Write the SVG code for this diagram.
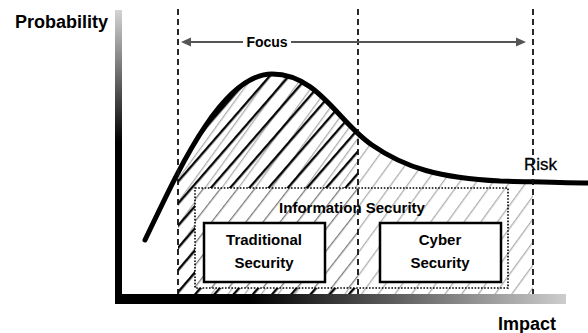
<svg xmlns="http://www.w3.org/2000/svg" width="588" height="333" viewBox="0 0 588 333">
<style>
.lbl{font-family:"Liberation Sans",Arial,sans-serif;font-weight:bold;fill:#000}
.reg{font-family:"Liberation Sans",Arial,sans-serif;font-weight:normal;fill:#000}
.dash{stroke:#111;stroke-width:1.8;stroke-dasharray:6 4;fill:none}
.box{fill:#fff;stroke:#000;stroke-width:2.5}
</style>
<defs>
<pattern id="hDark" patternUnits="userSpaceOnUse" width="14.5" height="14.5" patternTransform="rotate(41)">
<line x1="7" y1="0" x2="7" y2="14.5" stroke="#000" stroke-width="2.3"/>
</pattern>
<pattern id="hMid" patternUnits="userSpaceOnUse" width="13.5" height="13.5" patternTransform="rotate(38)">
<line x1="6.5" y1="0" x2="6.5" y2="13.5" stroke="#555" stroke-width="1"/>
</pattern>
<pattern id="hLight" patternUnits="userSpaceOnUse" width="13.5" height="13.5" patternTransform="rotate(36)">
<line x1="6.5" y1="0" x2="6.5" y2="13.5" stroke="#999" stroke-width="1"/>
</pattern>
<clipPath id="under">
<path d="M145,240 C175,178 220,74 272,74 C318,74 338,122 372,145 C405,168 440,178 500,181 C540,182 570,183 588,183 L588,294 L145,294 Z"/>
</clipPath>
<clipPath id="darkZone">
<path clip-rule="evenodd" d="M178,0 H358 V294 H178 Z M195,188 H358 V288 H195 Z"/>
</clipPath>
<linearGradient id="gV" x1="0" y1="10" x2="0" y2="304" gradientUnits="userSpaceOnUse">
<stop offset="0" stop-color="#d4d4d4"/>
<stop offset="0.45" stop-color="#000"/>
<stop offset="1" stop-color="#000"/>
</linearGradient>
<linearGradient id="gH" x1="115" y1="0" x2="566" y2="0" gradientUnits="userSpaceOnUse">
<stop offset="0" stop-color="#000"/>
<stop offset="0.3" stop-color="#000"/>
<stop offset="1" stop-color="#cdcdcd"/>
</linearGradient>
</defs>

<g id="hatching">
<g clip-path="url(#under)">
<rect x="178" y="60" width="355" height="234" fill="url(#hLight)"/>
<rect x="195" y="188" width="163" height="100" fill="#fff"/>
<rect x="195" y="188" width="163" height="100" fill="url(#hMid)"/>
<g clip-path="url(#darkZone)">
<rect x="178" y="60" width="180" height="234" fill="url(#hDark)"/>
</g>
</g>
</g>

<g id="risk-curve">
<path d="M145,240 C175,178 220,74 272,74 C318,74 338,122 372,145 C405,168 440,178 500,181 C540,182 570,183 588,183" fill="none" stroke="#000" stroke-width="5" stroke-linecap="round"/>
<text class="reg" x="524" y="170" font-size="17" stroke="#000" stroke-width="0.3">Risk</text>
</g>

<g id="connectors">
<line class="dash" x1="178" y1="9" x2="178" y2="295"/>
<line class="dash" x1="358" y1="9" x2="358" y2="295"/>
<line class="dash" x1="533" y1="9" x2="533" y2="295"/>
<line x1="188" y1="42" x2="243" y2="42" stroke="#555" stroke-width="1.8"/>
<line x1="291" y1="42" x2="518" y2="42" stroke="#555" stroke-width="1.8"/>
<polygon points="181,42 191,37.5 191,46.5" fill="#555"/>
<polygon points="526,42 516,37.5 516,46.5" fill="#555"/>
</g>

<g id="focus">
<text class="lbl" x="267" y="47" font-size="14" text-anchor="middle">Focus</text>
</g>

<g id="information-security">
<rect x="195" y="188" width="313" height="100" fill="none" stroke="#000" stroke-width="1.6" stroke-dasharray="1.6 1.6"/>
<text class="lbl" x="352" y="213" font-size="15" text-anchor="middle">Information Security</text>
</g>

<g id="traditional-security">
<rect class="box" x="204" y="223" width="121" height="59"/>
<text class="lbl" x="264" y="245" font-size="15" text-anchor="middle">Traditional</text>
<text class="lbl" x="264" y="268" font-size="15" text-anchor="middle">Security</text>
</g>

<g id="cyber-security">
<rect class="box" x="380" y="223" width="121" height="59"/>
<text class="lbl" x="440" y="245" font-size="15" text-anchor="middle">Cyber</text>
<text class="lbl" x="440" y="268" font-size="15" text-anchor="middle">Security</text>
</g>

<g id="axes">
<rect x="115" y="10" width="7" height="294" fill="url(#gV)"/>
<rect x="115" y="294" width="451" height="10" fill="url(#gH)"/>
<text class="lbl" x="15" y="28" font-size="18">Probability</text>
<text class="lbl" x="498" y="330" font-size="18">Impact</text>
</g>
</svg>
